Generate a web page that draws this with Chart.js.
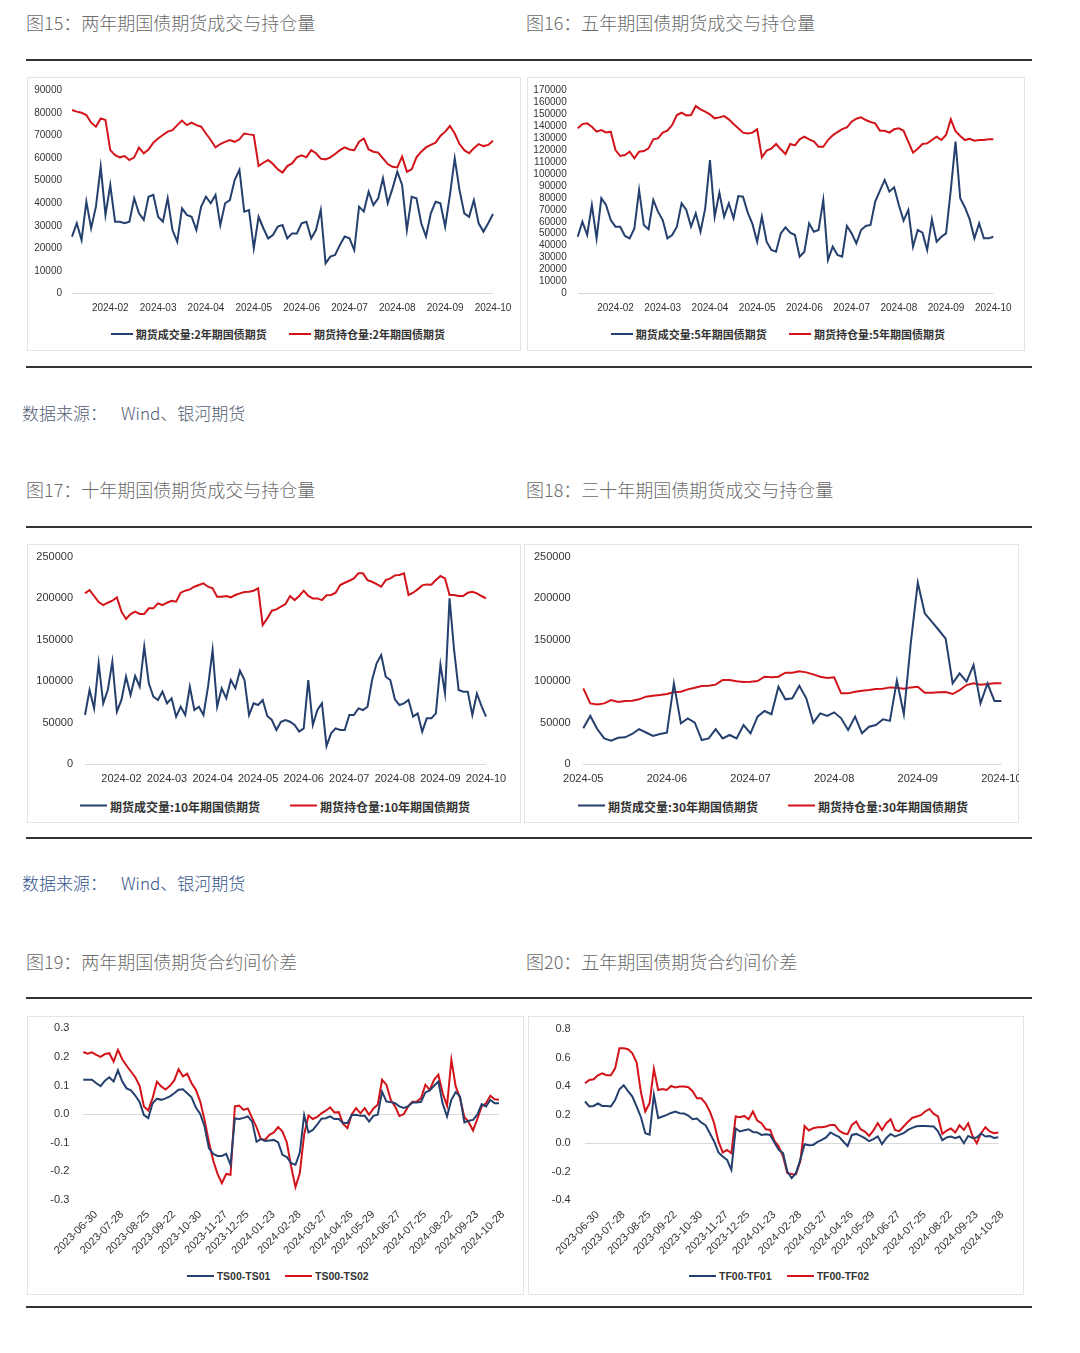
<!DOCTYPE html>
<html lang="zh-CN">
<head>
<meta charset="utf-8">
<title>国债期货成交持仓与合约间价差</title>
<script src="https://cdn.jsdelivr.net/npm/chart.js@4.4.1/dist/chart.umd.min.js"></script>
<style>
  body { margin: 0; width: 1080px; height: 1353px; background: #fff; position: relative; overflow: hidden;
         font-family: "Noto Sans CJK SC", sans-serif; }
  .title { position: absolute; font-size: 18px; line-height: 18px; color: #6a6a6a; font-weight: 300; white-space: nowrap; }
  .src { position: absolute; left: 22px; font-size: 17px; line-height: 17px; font-weight: 300; white-space: nowrap; }
  .src span { margin-left: 14px; }
  .rule { position: absolute; left: 26px; width: 1006px; height: 2px; background: #333; }
  .box { position: absolute; overflow: hidden; box-shadow: inset 0 0 0 1px #e4e4e4; }
  .box canvas { position: absolute; left: 0; top: 0; }
  .lg { position: absolute; white-space: nowrap; color: #333; line-height: 1; transform: translateY(-50%);
        display: flex; align-items: center; }
  .lg i { display: inline-block; height: 2px; margin-right: 3px; }
</style>
</head>
<body>

<div class="title" style="left:26px;top:13px">图15：两年期国债期货成交与持仓量</div>
<div class="title" style="left:526px;top:13px">图16：五年期国债期货成交与持仓量</div>
<div class="rule" style="top:59px"></div>
<div class="box" style="left:27px;top:77px;width:494px;height:274px"><canvas id="c15" width="494" height="240"></canvas></div>
<div class="box" style="left:527px;top:77px;width:498px;height:274px"><canvas id="c16" width="498" height="240"></canvas></div>
<div class="rule" style="top:366px"></div>
<div class="src" style="top:404px;color:#525d73">数据来源：<span>Wind、银河期货</span></div>

<div class="title" style="left:26px;top:480px">图17：十年期国债期货成交与持仓量</div>
<div class="title" style="left:526px;top:480px">图18：三十年期国债期货成交与持仓量</div>
<div class="rule" style="top:526px"></div>
<div class="box" style="left:27px;top:544px;width:494px;height:279px"><canvas id="c17" width="494" height="246"></canvas></div>
<div class="box" style="left:524px;top:544px;width:495px;height:279px"><canvas id="c18" width="506" height="246"></canvas></div>
<div class="rule" style="top:837px"></div>
<div class="src" style="top:874px;color:#34538c">数据来源：<span>Wind、银河期货</span></div>

<div class="title" style="left:26px;top:952px">图19：两年期国债期货合约间价差</div>
<div class="title" style="left:526px;top:952px">图20：五年期国债期货合约间价差</div>
<div class="rule" style="top:997px"></div>
<div class="box" style="left:27px;top:1016px;width:497px;height:279px"><canvas id="c19" width="497" height="246"></canvas></div>
<div class="box" style="left:528px;top:1016px;width:496px;height:279px"><canvas id="c20" width="496" height="246"></canvas></div>
<div class="rule" style="top:1306px"></div>

<script>
Chart.defaults.font.family = '"Liberation Sans", "Noto Sans CJK SC", sans-serif';
Chart.defaults.color = '#333';

const navy = '#25406e';
const red = '#d2141a';

// x 轴刻度
const monthTicks = ['2024-02', '2024-03', '2024-04', '2024-05', '2024-06', '2024-07', '2024-08', '2024-09', '2024-10'];
const monthTicks30 = ['2024-05', '2024-06', '2024-07', '2024-08', '2024-09', '2024-10'];
const spreadTicks = ['2023-06-30', '2023-07-28', '2023-08-25', '2023-09-22', '2023-10-30', '2023-11-27', '2023-12-25',
  '2024-01-23', '2024-02-28', '2024-03-27', '2024-04-26', '2024-05-29', '2024-06-27', '2024-07-25',
  '2024-08-22', '2024-09-23', '2024-10-28'];
const spreadTickAt = [2, 8, 14, 20, 26, 32, 37, 43, 49, 55, 61, 66, 72, 78, 84, 90, 96];

// 图15 两年期
const vol2y = [25200,31100,23700,40700,28900,38500,56200,34800,48100,31800,
  31800,31100,31800,42200,35500,32600,42900,43700,34000,31800,
  42200,28100,22900,37700,34800,34000,28100,38500,42900,40000,
  43700,30300,40000,41400,50300,54800,36300,37000,20000,34000,
  28900,24400,25900,29600,30300,24400,26600,26600,31100,31800,
  24400,28100,37000,13300,16300,17000,21500,25200,24400,19200,
  38500,36300,45100,39200,42200,51100,40000,46600,54000,48100,
  28100,42900,42200,31100,25200,35500,40700,40000,29600,43700,
  59900,45900,35500,34000,41400,31100,27400,31100,35200];
const oi2y = [81400,80700,80200,79200,75800,74000,77700,77000,63600,61400,
  60400,61000,59200,60400,64700,62200,63900,66900,68800,70300,
  71800,72500,74700,76700,74700,75800,74700,74000,71000,68100,
  64800,66300,67300,68100,67300,68400,71000,70600,70300,56500,
  58000,59200,57400,55100,53600,56500,57700,60400,61300,60400,
  63600,62200,59800,59500,60400,61900,63600,64800,63900,63600,
  67300,68800,63900,62900,62500,59900,57400,56200,55900,60700,
  54000,55100,60400,62900,64800,65900,66900,69900,71800,74300,
  71000,66300,63600,62200,64400,66300,65400,65900,67800];

// 图16 五年期
const vol5y = [47500,60100,48900,74100,46100,79700,74100,61500,55900,55900,
  48100,46100,54500,86700,57300,53700,78300,68500,61500,46100,
  48900,55900,75500,69900,55900,67100,51700,71300,111800,64300,
  84400,64300,75500,62900,81600,81100,67700,58200,43300,64300,
  43300,36300,34900,50300,55400,50900,48900,30800,34900,58700,
  51700,53100,78300,28000,39100,32200,30800,56500,50300,41900,
  53100,56500,57300,76900,86100,95100,85300,88900,74100,61000,
  70000,39100,53100,50900,36300,62000,43300,47500,50300,86700,
  127200,79700,72000,62000,46100,58700,46100,46100,47500];
const oi5y = [138400,142000,142600,139800,135600,137000,135000,135600,120200,115200,
  116000,118800,113200,118800,119400,121600,129200,130000,134800,136400,
  141200,149600,151500,149300,149600,157100,154300,152400,150100,146800,
  147600,148700,146000,142000,138400,134800,134200,134800,137600,114100,
  119700,121300,125300,120800,116900,125300,124100,129200,131400,129200,
  127500,123000,123000,128600,132500,135300,137800,139200,144000,146500,
  147600,145400,143700,142600,136400,136400,134800,137600,138400,136400,
  127200,118000,121300,125300,125800,128600,131400,128600,132800,146000,
  136000,132000,128600,129700,128100,128600,128600,129200,129200];

// 图17 十年期
const vol10y = [59100,89200,67100,121400,73100,89200,123400,63100,77200,105300,
  83200,106100,93200,141500,97300,81200,77200,87200,73100,79200,
  57100,69100,59100,93200,65100,69100,59100,93200,137400,69100,
  91200,79200,101300,91200,112500,101300,59100,73100,71100,77200,
  57900,53100,41000,51000,53100,51000,47000,39000,43000,101300,
  47000,65100,73100,21700,37000,43000,41000,41000,59100,59100,
  67100,65100,69100,101300,121400,131400,105300,101300,78000,71100,
  73100,77200,57100,61100,39000,55100,55100,61100,120000,85200,
  199700,137400,89200,87200,87200,59000,85000,70000,57100];
const oi10y = [205800,209800,202600,195300,191700,194500,196900,201000,183700,175000,
  180900,183700,180900,180900,187700,187700,193700,191700,194500,196900,
  195700,206600,209000,210600,213800,215800,217800,213800,211800,201700,
  201700,202600,201000,203800,205800,207400,207800,209000,211800,167600,
  175600,184900,186500,189700,192900,202600,197700,202600,209000,202600,
  199700,199700,197700,203400,203800,206600,215800,218600,221000,223900,
  229900,229900,221800,219800,217000,213800,221800,223900,227500,227900,
  229900,203800,206600,210600,215400,216600,216200,221800,226700,223900,
  203800,203800,202600,202600,206600,207800,205800,202600,199700];

// 图18 三十年期
const vol30y = [43000,58000,42200,30900,28100,31700,32200,36200,42000,38000,
  33800,36200,37800,97300,49000,55000,49800,28900,30900,42000,
  30900,35000,30900,47000,37000,57100,63900,60000,93200,78000,
  79200,94400,79200,49800,61100,57900,62300,55100,41000,57100,
  37000,45000,47000,53900,52000,100500,60000,146300,218600,181700,
  171600,161600,151100,97300,109300,99300,119400,73100,97300,76000,76000];
const oi30y = [91200,73100,71900,73100,77200,74800,76000,76400,78000,81200,
  82400,83200,84400,86400,87200,90000,92000,94000,94400,95700,
  101300,101300,99700,98900,99300,100100,105300,104500,105300,110100,
  110100,111700,110500,108100,105300,103700,104500,85200,85200,87200,
  88400,89200,90400,90800,92400,92000,90800,92400,93200,86000,
  86000,86400,86800,84400,89200,95200,97300,95700,96500,97300,97300];

// 图19 两年期合约间价差
const ts01 = [0.120,0.120,0.120,0.108,0.098,0.117,0.129,0.114,0.153,0.114,
  0.090,0.083,0.065,0.043,-0.003,-0.014,0.038,0.054,0.050,0.055,
  0.062,0.073,0.085,0.087,0.073,0.059,0.023,0.001,-0.043,-0.119,
  -0.139,-0.146,-0.146,-0.139,-0.177,-0.015,-0.017,-0.013,-0.008,-0.026,
  -0.096,-0.087,-0.094,-0.092,-0.090,-0.099,-0.142,-0.150,-0.171,-0.177,
  -0.134,-0.003,-0.064,-0.055,-0.037,-0.016,-0.014,-0.008,-0.017,-0.017,
  -0.031,-0.031,-0.003,-0.002,-0.006,-0.006,-0.026,-0.006,-0.002,0.079,
  0.044,0.042,0.038,0.027,0.022,0.027,0.041,0.041,0.043,0.076,
  0.083,0.099,0.114,0.036,-0.008,0.050,0.077,0.062,-0.029,-0.023,
  -0.020,-0.002,0.035,0.027,0.050,0.038,0.038];
const ts02 = [0.217,0.211,0.216,0.207,0.200,0.210,0.213,0.184,0.225,0.192,
  0.169,0.149,0.129,0.099,0.027,0.013,0.056,0.113,0.097,0.086,
  0.099,0.118,0.157,0.132,0.141,0.108,0.085,0.044,-0.020,-0.096,
  -0.162,-0.209,-0.241,-0.209,-0.212,0.027,0.030,0.015,0.020,-0.014,
  -0.045,-0.087,-0.089,-0.072,-0.064,-0.045,-0.061,-0.099,-0.183,-0.255,
  -0.206,-0.072,-0.005,-0.017,-0.010,0.003,0.012,0.024,0.006,0.007,
  -0.034,-0.049,0.000,0.021,0.003,0.021,-0.002,0.020,0.033,0.120,
  0.103,0.050,0.027,-0.006,0.000,0.027,0.043,0.044,0.056,0.103,
  0.085,0.120,0.138,0.073,0.029,0.190,0.097,0.056,-0.010,-0.028,
  -0.057,-0.017,0.027,0.038,0.064,0.052,0.050];

// 图20 五年期合约间价差
const tf01 = [0.292,0.257,0.261,0.278,0.261,0.261,0.257,0.303,0.378,0.406,
  0.364,0.327,0.257,0.182,0.070,0.060,0.340,0.175,0.187,0.198,
  0.212,0.222,0.210,0.208,0.194,0.168,0.173,0.145,0.126,0.070,
  0.012,-0.065,-0.093,-0.117,-0.187,0.103,0.082,0.091,0.098,0.079,
  0.075,0.058,0.063,0.058,0.005,-0.047,-0.070,-0.198,-0.245,-0.210,
  -0.117,-0.007,-0.014,-0.012,0.009,0.023,0.040,0.075,0.058,0.044,
  0.012,-0.021,0.058,0.065,0.051,0.035,0.014,0.028,0.047,-0.007,
  0.037,0.065,0.047,0.058,0.070,0.093,0.107,0.119,0.121,0.121,
  0.119,0.117,0.084,0.021,0.040,0.047,0.035,0.047,0.000,0.051,
  0.037,0.040,0.068,0.047,0.051,0.037,0.042];
const tf02 = [0.420,0.443,0.448,0.476,0.490,0.476,0.476,0.525,0.665,0.665,
  0.658,0.630,0.565,0.355,0.222,0.280,0.520,0.373,0.380,0.373,
  0.401,0.390,0.397,0.397,0.392,0.364,0.315,0.315,0.280,0.222,
  0.140,0.012,-0.065,-0.047,-0.070,0.187,0.182,0.191,0.168,0.222,
  0.159,0.140,0.098,0.093,0.016,-0.023,-0.093,-0.210,-0.215,-0.217,
  -0.128,0.120,0.089,0.105,0.112,0.112,0.117,0.128,0.128,0.089,
  0.070,0.063,0.128,0.152,0.098,0.082,0.051,0.089,0.140,0.093,
  0.140,0.168,0.093,0.084,0.117,0.149,0.177,0.187,0.196,0.222,
  0.240,0.205,0.187,0.065,0.089,0.103,0.075,0.126,0.093,0.140,
  0.051,0.000,0.070,0.112,0.082,0.070,0.075];

function monthLabels(count, firstAt, step, names) {
  const out = new Array(count).fill('');
  names.forEach((m, k) => { out[firstAt + k * step] = m; });
  return out;
}

function tickLabels(count, at, names) {
  const out = new Array(count).fill('');
  at.forEach((pos, k) => { out[pos] = names[k]; });
  return out;
}

const intFmt = v => String(v);
const decFmt = v => Math.abs(v) < 1e-9 ? '0.0' : v.toFixed(1);

function drawChart(id, labels, series, o) {
  return new Chart(document.getElementById(id), {
    type: 'line',
    data: {
      labels: labels,
      datasets: series.map(s => ({
        label: s.label,
        data: s.data,
        borderColor: s.color,
        backgroundColor: s.color,
        borderWidth: 2,
        pointRadius: 0,
        tension: 0
      }))
    },
    options: {
      responsive: false,
      animation: false,
      events: [],
      layout: { padding: { top: o.top, right: o.right, left: 0, bottom: 0 } },
      plugins: { legend: { display: false }, tooltip: { enabled: false } },
      scales: {
        x: {
          grid: { display: false, drawTicks: false },
          border: { display: false },
          ticks: {
            autoSkip: false,
            maxRotation: o.rot || 0,
            minRotation: o.rot || 0,
            padding: o.xPad,
            labelOffset: o.labelOffset || 0,
            font: { size: o.font },
            color: '#333'
          },
          afterFit: s => { s.height = o.xH; }
        },
        y: {
          min: o.min,
          max: o.max,
          grid: {
            drawTicks: false,
            color: c => (c.tick && Math.abs(c.tick.value) < 1e-9) ? '#d9d9d9' : 'rgba(0,0,0,0)'
          },
          border: { display: false },
          ticks: {
            stepSize: o.step,
            autoSkip: false,
            padding: o.yPad,
            font: { size: o.font },
            color: '#333',
            callback: o.fmt
          },
          // fixed axis width; layout padding alone sets the top of the plot
          afterFit: s => { s.width = o.yW; s.paddingTop = 0; s.paddingBottom = 0; }
        }
      }
    }
  });
}

function addLegend(series, xs, y, lineW, font) {
  series.forEach((s, k) => {
    const el = document.createElement('div');
    el.className = 'lg';
    el.style.left = xs[k] + 'px';
    el.style.top = y + 'px';
    el.style.font = font;
    el.innerHTML = '<i style="width:' + lineW + 'px;background:' + s.color + '"></i>' + s.label;
    document.body.appendChild(el);
  });
}

const cjkLegend = sz => 'bold ' + sz + 'px "Noto Sans CJK SC", sans-serif';

// 图15
const s15 = [
  { label: '期货成交量:2年期国债期货', data: vol2y, color: navy },
  { label: '期货持仓量:2年期国债期货', data: oi2y, color: red }
];
drawChart('c15', monthLabels(vol2y.length, 8, 10, monthTicks), s15,
  { top: 13.7, right: 28, xH: 23.7, yW: 45, yPad: 10, xPad: 9, font: 10,
    min: 0, max: 90000, step: 10000, fmt: intFmt });
addLegend(s15, [110.7, 289], 334, 22, cjkLegend(11));

// 图16
const s16 = [
  { label: '期货成交量:5年期国债期货', data: vol5y, color: navy },
  { label: '期货持仓量:5年期国债期货', data: oi5y, color: red }
];
drawChart('c16', monthLabels(vol5y.length, 8, 10, monthTicks), s16,
  { top: 13.7, right: 31.7, xH: 23.7, yW: 50.7, yPad: 11, xPad: 9, font: 10,
    min: 0, max: 170000, step: 10000, fmt: intFmt });
addLegend(s16, [610.7, 789], 334, 22, cjkLegend(11));

// 图17
const s17 = [
  { label: '期货成交量:10年期国债期货', data: vol10y, color: navy },
  { label: '期货持仓量:10年期国债期货', data: oi10y, color: red }
];
drawChart('c17', monthLabels(vol10y.length, 8, 10, monthTicks), s17,
  { top: 12.7, right: 35, xH: 26, yW: 58, yPad: 12, xPad: 8.4, font: 11,
    min: 0, max: 250000, step: 50000, fmt: intFmt });
addLegend(s17, [80, 290], 805.7, 27, cjkLegend(12));

// 图18
const s18 = [
  { label: '期货成交量:30年期国债期货', data: vol30y, color: navy },
  { label: '期货持仓量:30年期国债期货', data: oi30y, color: red }
];
drawChart('c18', monthLabels(vol30y.length, 0, 12, monthTicks30), s18,
  { top: 12.7, right: 26.7, xH: 26, yW: 59.3, yPad: 12.6, xPad: 8.4, font: 11,
    min: 0, max: 250000, step: 50000, fmt: intFmt });
addLegend(s18, [578, 788], 805.7, 27, cjkLegend(12));

// 图19
const s19 = [
  { label: 'TS00-TS01', data: ts01, color: navy },
  { label: 'TS00-TS02', data: ts02, color: red }
];
drawChart('c19', tickLabels(ts01.length, spreadTickAt, spreadTicks), s19,
  { top: 12.3, right: 25, xH: 62, yW: 56.3, yPad: 14, xPad: 8, font: 11, rot: 45, labelOffset: 4,
    min: -0.3, max: 0.3, step: 0.1, fmt: decFmt });
addLegend(s19, [186.7, 285], 1275.7, 27, 'bold 10.5px "Liberation Sans", sans-serif');

// 图20
const s20 = [
  { label: 'TF00-TF01', data: tf01, color: navy },
  { label: 'TF00-TF02', data: tf02, color: red }
];
drawChart('c20', tickLabels(tf01.length, spreadTickAt, spreadTicks), s20,
  { top: 13, right: 25.7, xH: 61.7, yW: 57, yPad: 14.3, xPad: 8, font: 11, rot: 45, labelOffset: 4,
    min: -0.4, max: 0.8, step: 0.2, fmt: decFmt });
addLegend(s20, [689, 786.7], 1275.7, 27, 'bold 10.5px "Liberation Sans", sans-serif');
</script>
</body>
</html>
